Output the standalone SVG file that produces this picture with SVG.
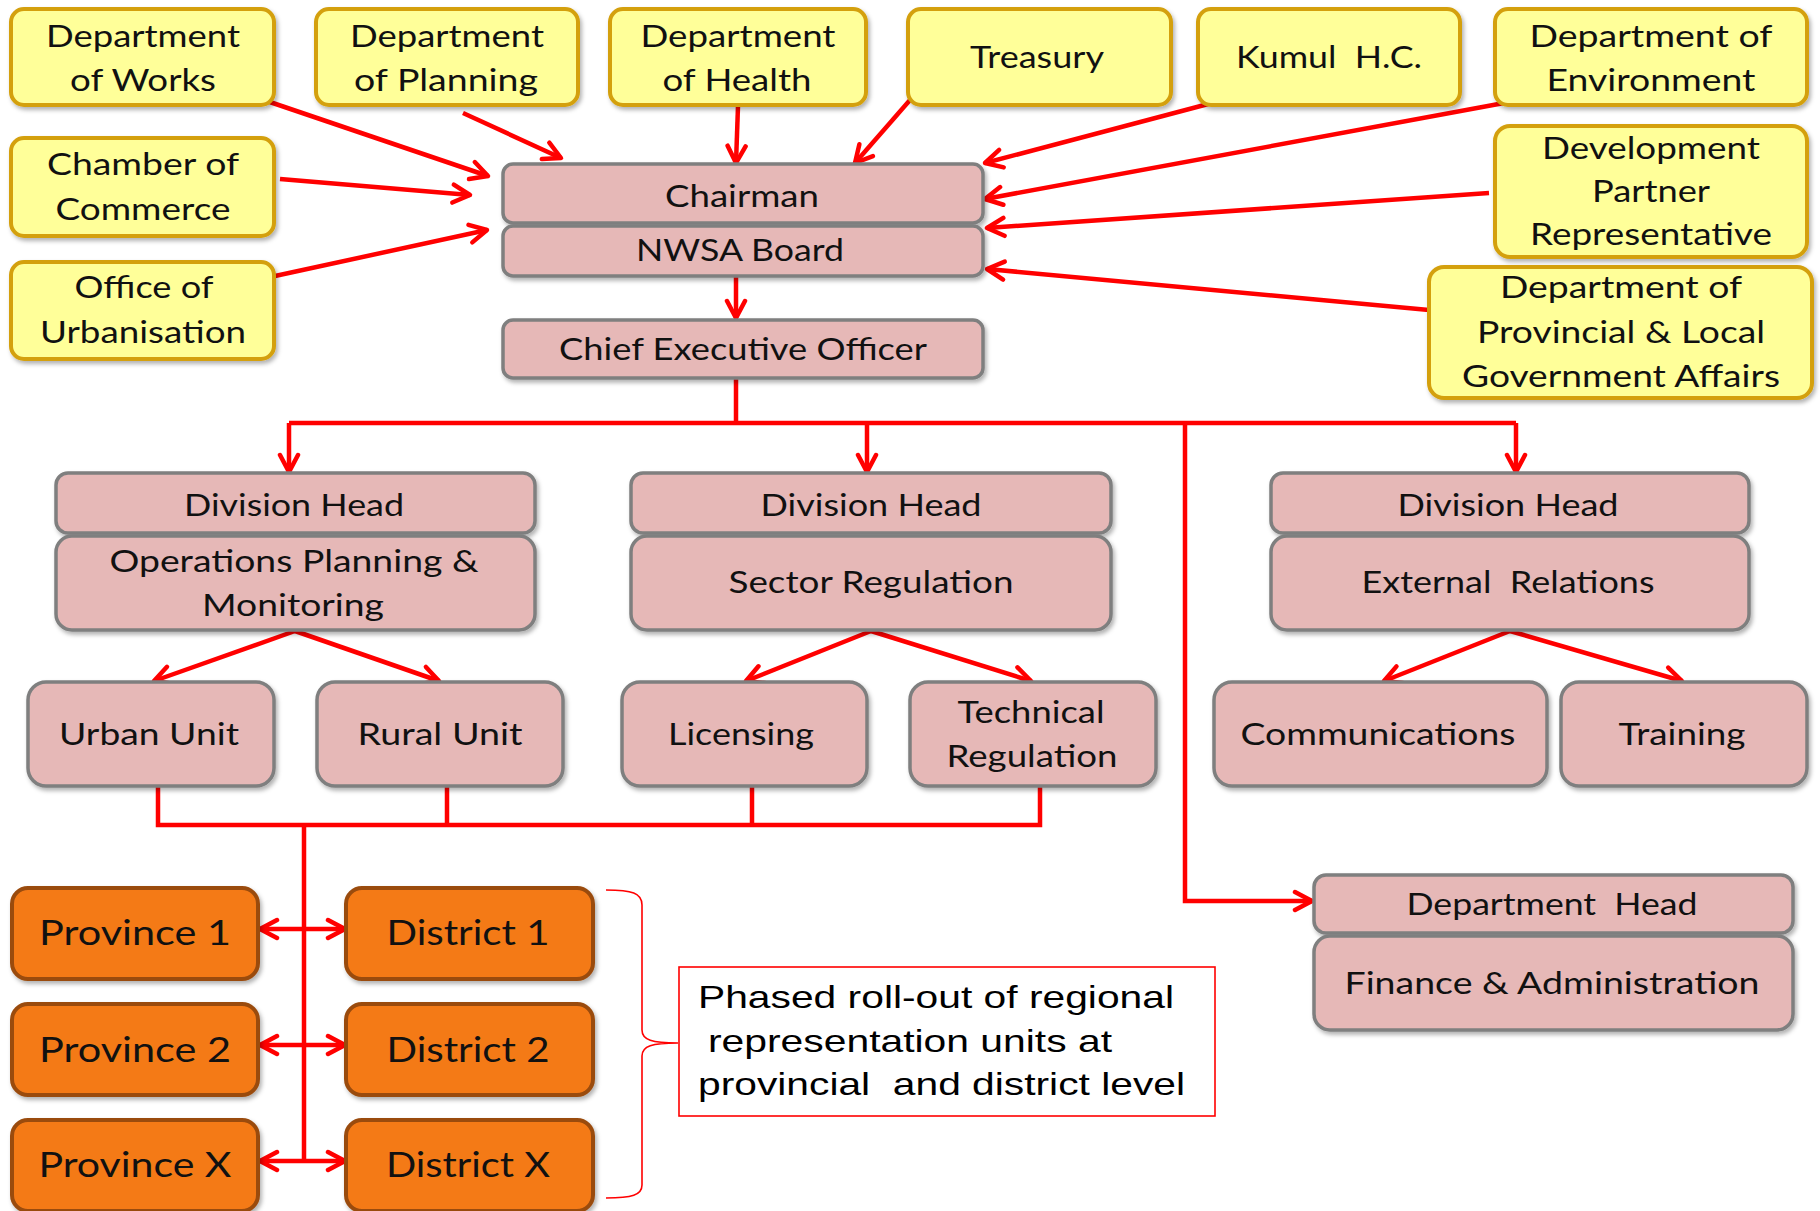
<svg xmlns="http://www.w3.org/2000/svg" width="1820" height="1211" viewBox="0 0 1820 1211">
<style>
.y{fill:#FFFF99;stroke:#D4A00F;stroke-width:4}
.p{fill:#E6B8B7;stroke:#7F7F7F;stroke-width:3.5}
.o{fill:#F47A16;stroke:#9A4B0E;stroke-width:4}
.t{font-family:Lato,"Noto Sans","DejaVu Sans",sans-serif;font-size:31px;fill:#111;text-anchor:middle}
.to{font-family:Lato,"Noto Sans","DejaVu Sans",sans-serif;font-size:35px;fill:#111;text-anchor:middle}
.tn{font-family:"Liberation Sans",Arial,sans-serif;font-size:32px;fill:#000}
.c{fill:none;stroke:#FF0000;stroke-width:4.5;stroke-linejoin:miter}
.a{marker-end:url(#ah)}
.d{marker-start:url(#ah);marker-end:url(#ah)}
</style>
<defs>
<filter id="sh" x="-10%" y="-10%" width="125%" height="135%">
<feDropShadow dx="2" dy="3" stdDeviation="2" flood-color="#000" flood-opacity="0.3"/>
</filter>
<marker id="ah" viewBox="0 0 24 24" refX="21" refY="12" markerWidth="24" markerHeight="24" markerUnits="userSpaceOnUse" orient="auto-start-reverse">
<path d="M4,3 L21,12 L4,21" fill="none" stroke="#FF0000" stroke-width="4.5" stroke-linecap="round" stroke-linejoin="round"/>
</marker>
</defs>
<rect width="1820" height="1211" fill="#FFFFFF"/>

<g id="connectors">
<path class="c a" d="M261,99 L488,176"/>
<path class="c a" d="M463,113 L561,158"/>
<path class="c a" d="M280,179 L470,195"/>
<path class="c a" d="M275,276 L487,230"/>
<path class="c a" d="M738,106 L736,163"/>
<path class="c a" d="M910,100 L855,163"/>
<path class="c a" d="M1212,103 L985,163"/>
<path class="c a" d="M1504,103 L985,199"/>
<path class="c a" d="M1489,193 L987,228"/>
<path class="c a" d="M1429,310 L987,269"/>
<path class="c a" d="M736,276 L736,318"/>
<path class="c" d="M736,378 L736,423"/>
<path class="c" d="M289,423 L1516,423"/>
<path class="c a" d="M289,423 L289,472"/>
<path class="c a" d="M867,423 L867,472"/>
<path class="c a" d="M1516,423 L1516,472"/>
<path class="c a" d="M1185,423 L1185,901 L1312,901"/>
<path class="c a" d="M295,631 L154,681"/>
<path class="c a" d="M295,631 L439,681"/>
<path class="c a" d="M871,631 L746,681"/>
<path class="c a" d="M871,631 L1031,681"/>
<path class="c a" d="M1510,631 L1384,681"/>
<path class="c a" d="M1510,631 L1682,681"/>
<path class="c" d="M158,786 L158,825 L1040,825 L1040,786"/>
<path class="c" d="M447,786 L447,825"/>
<path class="c" d="M752,786 L752,825"/>
<path class="c" d="M304,825 L304,1161"/>
<path class="c d" d="M260,929 L345,929"/>
<path class="c d" d="M260,1045 L345,1045"/>
<path class="c d" d="M260,1161 L345,1161"/>
</g>

<g id="dept-works"><rect class="y" filter="url(#sh)" x="11" y="9" width="263" height="96" rx="13"/>
<text class="t" x="143" y="47" textLength="194" lengthAdjust="spacingAndGlyphs">Department</text>
<text class="t" x="143" y="91" textLength="146" lengthAdjust="spacingAndGlyphs">of Works</text></g>

<g id="dept-planning"><rect class="y" filter="url(#sh)" x="316" y="9" width="262" height="96" rx="13"/>
<text class="t" x="447" y="47" textLength="194" lengthAdjust="spacingAndGlyphs">Department</text>
<text class="t" x="446" y="91" textLength="184" lengthAdjust="spacingAndGlyphs">of Planning</text></g>

<g id="dept-health"><rect class="y" filter="url(#sh)" x="610" y="9" width="256" height="96" rx="13"/>
<text class="t" x="738" y="47" textLength="195" lengthAdjust="spacingAndGlyphs">Department</text>
<text class="t" x="737" y="91" textLength="149" lengthAdjust="spacingAndGlyphs">of Health</text></g>

<g id="treasury"><rect class="y" filter="url(#sh)" x="908" y="9" width="263" height="96" rx="13"/>
<text class="t" x="1037" y="68" textLength="134" lengthAdjust="spacingAndGlyphs">Treasury</text></g>

<g id="kumul"><rect class="y" filter="url(#sh)" x="1198" y="9" width="262" height="96" rx="13"/>
<text class="t" x="1329" y="68" textLength="186" lengthAdjust="spacingAndGlyphs" xml:space="preserve">Kumul  H.C.</text></g>

<g id="dept-environment"><rect class="y" filter="url(#sh)" x="1495" y="9" width="312" height="96" rx="13"/>
<text class="t" x="1651" y="47" textLength="243" lengthAdjust="spacingAndGlyphs">Department of</text>
<text class="t" x="1651" y="91" textLength="209" lengthAdjust="spacingAndGlyphs">Environment</text></g>

<g id="chamber"><rect class="y" filter="url(#sh)" x="11" y="138" width="263" height="98" rx="13"/>
<text class="t" x="143" y="175" textLength="192" lengthAdjust="spacingAndGlyphs">Chamber of</text>
<text class="t" x="143" y="220" textLength="175" lengthAdjust="spacingAndGlyphs">Commerce</text></g>

<g id="office-urbanisation"><rect class="y" filter="url(#sh)" x="11" y="262" width="263" height="97" rx="13"/>
<text class="t" x="144" y="298" textLength="139" lengthAdjust="spacingAndGlyphs">Office of</text>
<text class="t" x="143" y="343" textLength="206" lengthAdjust="spacingAndGlyphs">Urbanisation</text></g>

<g id="dev-partner"><rect class="y" filter="url(#sh)" x="1495" y="126" width="312" height="131" rx="15"/>
<text class="t" x="1651" y="159" textLength="218" lengthAdjust="spacingAndGlyphs">Development</text>
<text class="t" x="1651" y="202" textLength="118" lengthAdjust="spacingAndGlyphs">Partner</text>
<text class="t" x="1651" y="245" textLength="242" lengthAdjust="spacingAndGlyphs">Representative</text></g>

<g id="dept-provincial"><rect class="y" filter="url(#sh)" x="1429" y="267" width="383" height="131" rx="15"/>
<text class="t" x="1621" y="298" textLength="242" lengthAdjust="spacingAndGlyphs">Department of</text>
<text class="t" x="1621" y="343" textLength="288" lengthAdjust="spacingAndGlyphs">Provincial &amp; Local</text>
<text class="t" x="1621" y="387" textLength="318" lengthAdjust="spacingAndGlyphs">Government Affairs</text></g>

<g id="chairman"><rect class="p" filter="url(#sh)" x="503" y="164" width="480" height="59" rx="10"/>
<text class="t" x="742" y="207" textLength="154" lengthAdjust="spacingAndGlyphs">Chairman</text></g>

<g id="nwsa-board"><rect class="p" filter="url(#sh)" x="503" y="226" width="480" height="50" rx="10"/>
<text class="t" x="740" y="261" textLength="208" lengthAdjust="spacingAndGlyphs">NWSA Board</text></g>

<g id="ceo"><rect class="p" filter="url(#sh)" x="503" y="320" width="480" height="58" rx="10"/>
<text class="t" x="743" y="360" textLength="368" lengthAdjust="spacingAndGlyphs">Chief Executive Officer</text></g>

<g id="div-head-1"><rect class="p" filter="url(#sh)" x="56" y="473" width="479" height="60" rx="12"/>
<text class="t" x="294" y="516" textLength="220" lengthAdjust="spacingAndGlyphs">Division Head</text></g>
<g id="ops-planning"><rect class="p" filter="url(#sh)" x="56" y="536" width="479" height="94" rx="16"/>
<text class="t" x="294" y="572" textLength="369" lengthAdjust="spacingAndGlyphs">Operations Planning &amp;</text>
<text class="t" x="293" y="616" textLength="182" lengthAdjust="spacingAndGlyphs">Monitoring</text></g>

<g id="div-head-2"><rect class="p" filter="url(#sh)" x="631" y="473" width="480" height="60" rx="12"/>
<text class="t" x="871" y="516" textLength="221" lengthAdjust="spacingAndGlyphs">Division Head</text></g>
<g id="sector-regulation"><rect class="p" filter="url(#sh)" x="631" y="536" width="480" height="94" rx="16"/>
<text class="t" x="871" y="593" textLength="285" lengthAdjust="spacingAndGlyphs">Sector Regulation</text></g>

<g id="div-head-3"><rect class="p" filter="url(#sh)" x="1271" y="473" width="478" height="60" rx="12"/>
<text class="t" x="1508" y="516" textLength="221" lengthAdjust="spacingAndGlyphs">Division Head</text></g>
<g id="external-relations"><rect class="p" filter="url(#sh)" x="1271" y="536" width="478" height="94" rx="16"/>
<text class="t" x="1508" y="593" textLength="293" lengthAdjust="spacingAndGlyphs" xml:space="preserve">External  Relations</text></g>

<g id="urban-unit"><rect class="p" filter="url(#sh)" x="28" y="682" width="246" height="104" rx="18"/>
<text class="t" x="149" y="745" textLength="180" lengthAdjust="spacingAndGlyphs">Urban Unit</text></g>
<g id="rural-unit"><rect class="p" filter="url(#sh)" x="317" y="682" width="246" height="104" rx="18"/>
<text class="t" x="440" y="745" textLength="165" lengthAdjust="spacingAndGlyphs">Rural Unit</text></g>
<g id="licensing"><rect class="p" filter="url(#sh)" x="622" y="682" width="245" height="104" rx="18"/>
<text class="t" x="741" y="745" textLength="146" lengthAdjust="spacingAndGlyphs">Licensing</text></g>
<g id="technical-regulation"><rect class="p" filter="url(#sh)" x="910" y="682" width="246" height="104" rx="18"/>
<text class="t" x="1031" y="723" textLength="147" lengthAdjust="spacingAndGlyphs">Technical</text>
<text class="t" x="1032" y="767" textLength="171" lengthAdjust="spacingAndGlyphs">Regulation</text></g>
<g id="communications"><rect class="p" filter="url(#sh)" x="1214" y="682" width="333" height="104" rx="18"/>
<text class="t" x="1378" y="745" textLength="275" lengthAdjust="spacingAndGlyphs">Communications</text></g>
<g id="training"><rect class="p" filter="url(#sh)" x="1561" y="682" width="246" height="104" rx="18"/>
<text class="t" x="1682" y="745" textLength="127" lengthAdjust="spacingAndGlyphs">Training</text></g>

<g id="dept-head"><rect class="p" filter="url(#sh)" x="1314" y="875" width="479" height="58" rx="12"/>
<text class="t" x="1552" y="915" textLength="291" lengthAdjust="spacingAndGlyphs" xml:space="preserve">Department  Head</text></g>
<g id="finance-admin"><rect class="p" filter="url(#sh)" x="1314" y="936" width="479" height="94" rx="16"/>
<text class="t" x="1552" y="994" textLength="415" lengthAdjust="spacingAndGlyphs">Finance &amp; Administration</text></g>

<g id="province-1"><rect class="o" filter="url(#sh)" x="12" y="888" width="246" height="91" rx="16"/>
<text class="to" x="135" y="945" textLength="192" lengthAdjust="spacingAndGlyphs">Province 1</text></g>
<g id="district-1"><rect class="o" filter="url(#sh)" x="346" y="888" width="247" height="91" rx="16"/>
<text class="to" x="468" y="945" textLength="163" lengthAdjust="spacingAndGlyphs">District 1</text></g>
<g id="province-2"><rect class="o" filter="url(#sh)" x="12" y="1004" width="246" height="91" rx="16"/>
<text class="to" x="135" y="1062" textLength="192" lengthAdjust="spacingAndGlyphs">Province 2</text></g>
<g id="district-2"><rect class="o" filter="url(#sh)" x="346" y="1004" width="247" height="91" rx="16"/>
<text class="to" x="468" y="1062" textLength="163" lengthAdjust="spacingAndGlyphs">District 2</text></g>
<g id="province-x"><rect class="o" filter="url(#sh)" x="12" y="1120" width="246" height="91" rx="16"/>
<text class="to" x="135" y="1177" textLength="193" lengthAdjust="spacingAndGlyphs">Province X</text></g>
<g id="district-x"><rect class="o" filter="url(#sh)" x="346" y="1120" width="247" height="91" rx="16"/>
<text class="to" x="468" y="1177" textLength="164" lengthAdjust="spacingAndGlyphs">District X</text></g>

<g id="brace">
<path d="M606,890 C632,890 642,893 642,905 L642,1030 C642,1040 652,1043 678,1043 C652,1043 642,1046 642,1056 L642,1185 C642,1195 632,1198 606,1198" fill="none" stroke="#FF0000" stroke-width="1.6"/>
</g>

<g id="note">
<rect x="679" y="967" width="536" height="149" fill="#FFFFFF" stroke="#FF0000" stroke-width="1.6"/>
<text class="tn" x="698" y="1008" textLength="476" lengthAdjust="spacingAndGlyphs">Phased roll-out of regional</text>
<text class="tn" x="708" y="1052" textLength="404" lengthAdjust="spacingAndGlyphs">representation units at</text>
<text class="tn" x="698" y="1095" textLength="487" lengthAdjust="spacingAndGlyphs" xml:space="preserve">provincial  and district level</text>
</g>
</svg>
